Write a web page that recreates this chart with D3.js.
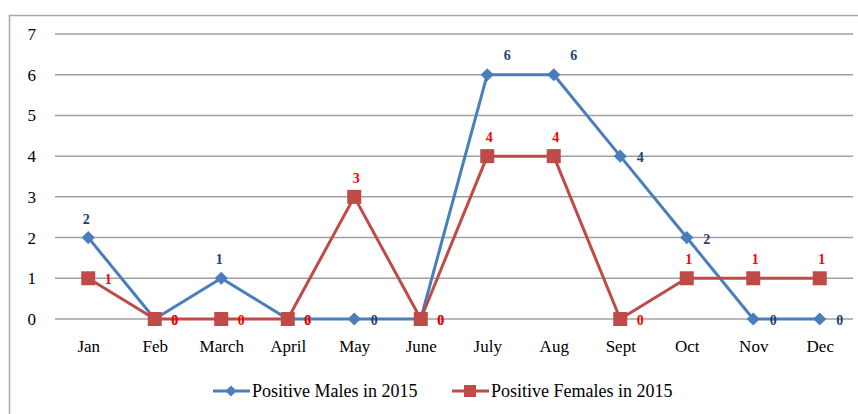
<!DOCTYPE html>
<html lang="en">
<head>
<meta charset="UTF-8" />
<title>Positive cases 2015</title>
<script src="https://d3js.org/d3.v7.min.js"></script>
<style>
body { margin: 0; padding: 0; background: #fff; }
svg { display: block; font-family: "Liberation Serif", "Times New Roman", serif; }
.grid line { stroke: #a0a0a0; stroke-width: 1.5; }
</style>
</head>
<body>
<svg width="858" height="414"></svg>
<script>
// data
const months = ["Jan", "Feb", "March", "April", "May", "June", "July", "Aug", "Sept", "Oct", "Nov", "Dec"];
const males = [2, 0, 1, 0, 0, 0, 6, 6, 4, 2, 0, 0];
const females = [1, 0, 0, 0, 3, 0, 4, 4, 0, 1, 1, 1];
const yTicks = [0, 1, 2, 3, 4, 5, 6, 7];
// where each value label sits: t = above, r = right, tr = above right
const maleLabelPos = ["t", "r", "t", "r", "r", "r", "tr", "tr", "r", "r", "r", "r"];
const femaleLabelPos = ["r", "r", "r", "r", "t", "r", "t", "t", "r", "t", "t", "t"];

const svg = d3.select("svg");
const plotLeft = 55, plotRight = 853, plotTop = 34, plotBottom = 319;
const serif = "'Liberation Serif', 'Times New Roman', serif";

// outer frame
svg.append("path")
    .attr("d", "M9.5,414 V15.5 H858")
    .attr("fill", "none")
    .attr("stroke", "#a6a6a6")
    .attr("stroke-width", 1.5);

const x = d3.scalePoint().domain(months).range([plotLeft, plotRight]).padding(0.5);
const y = d3.scaleLinear().domain([0, 7]).range([plotBottom, plotTop]);

// gridlines
svg.append("g").attr("class", "grid")
    .selectAll("line")
    .data(yTicks)
    .join("line")
    .attr("x1", plotLeft).attr("x2", plotRight)
    .attr("y1", d => y(d)).attr("y2", d => y(d));

// y axis labels
const yAxis = svg.append("g")
    .attr("transform", `translate(${plotLeft},0)`)
    .call(d3.axisLeft(y).tickValues(yTicks).tickFormat(d3.format("d")).tickSize(0).tickPadding(19));
yAxis.select(".domain").remove();

// x axis labels
const xAxis = svg.append("g")
    .attr("transform", `translate(0,${plotBottom})`)
    .call(d3.axisBottom(x).tickSize(0).tickPadding(21));
xAxis.select(".domain").remove();

[yAxis, xAxis].forEach(a => a.attr("font-family", serif).attr("font-size", 17)
    .selectAll("text").attr("fill", "#000"));

const blue = "#4a7ebb";
const red = "#be4b48";

function drawLine(values, color) {
    svg.append("path")
        .datum(values)
        .attr("fill", "none")
        .attr("stroke", color)
        .attr("stroke-width", 3)
        .attr("stroke-linejoin", "round")
        .attr("d", d3.line().x((d, i) => x(months[i])).y(d => y(d)));
}

function drawLabels(values, pos, color, dxTop) {
    svg.append("g")
        .selectAll("text")
        .data(values)
        .join("text")
        .attr("x", (d, i) => x(months[i]) + (pos[i] === "r" ? 20 : pos[i] === "tr" ? 20 : dxTop))
        .attr("y", (d, i) => y(d) + (pos[i] === "r" ? 6 : pos[i] === "tr" ? -15 : -14))
        .attr("text-anchor", "middle")
        .attr("font-size", 14)
        .attr("font-weight", "bold")
        .attr("fill", color)
        .text(d => d);
}

drawLine(males, blue);
drawLine(females, red);

// male diamonds
svg.append("g")
    .selectAll("path")
    .data(males)
    .join("path")
    .attr("transform", (d, i) => `translate(${x(months[i])},${y(d)})`)
    .attr("d", d3.symbol(d3.symbolDiamond2, 110))
    .attr("fill", blue);

// female squares
svg.append("g")
    .selectAll("rect")
    .data(females)
    .join("rect")
    .attr("x", (d, i) => x(months[i]) - 7)
    .attr("y", d => y(d) - 7)
    .attr("width", 14)
    .attr("height", 14)
    .attr("fill", red);

drawLabels(males, maleLabelPos, "#1f3f6e", -2);
drawLabels(females, femaleLabelPos, "#ff0000", 2);

// legend
const legend = svg.append("g").attr("transform", "translate(0,391)");
const items = [
    { name: "Positive Males in 2015", color: blue, x: 213, shape: "diamond" },
    { name: "Positive Females in 2015", color: red, x: 452, shape: "square" }
];
items.forEach(it => {
    legend.append("line")
        .attr("x1", it.x).attr("x2", it.x + 37)
        .attr("y1", 0).attr("y2", 0)
        .attr("stroke", it.color).attr("stroke-width", 3);
    if (it.shape === "diamond") {
        legend.append("path")
            .attr("transform", `translate(${it.x + 18},0)`)
            .attr("d", d3.symbol(d3.symbolDiamond2, 80))
            .attr("fill", it.color);
    } else {
        legend.append("rect")
            .attr("x", it.x + 12).attr("y", -6)
            .attr("width", 12).attr("height", 12)
            .attr("fill", it.color);
    }
    legend.append("text")
        .attr("x", it.x + 39).attr("y", 6)
        .attr("font-size", 18)
        .attr("fill", "#000")
        .text(it.name);
});
</script>
</body>
</html>
